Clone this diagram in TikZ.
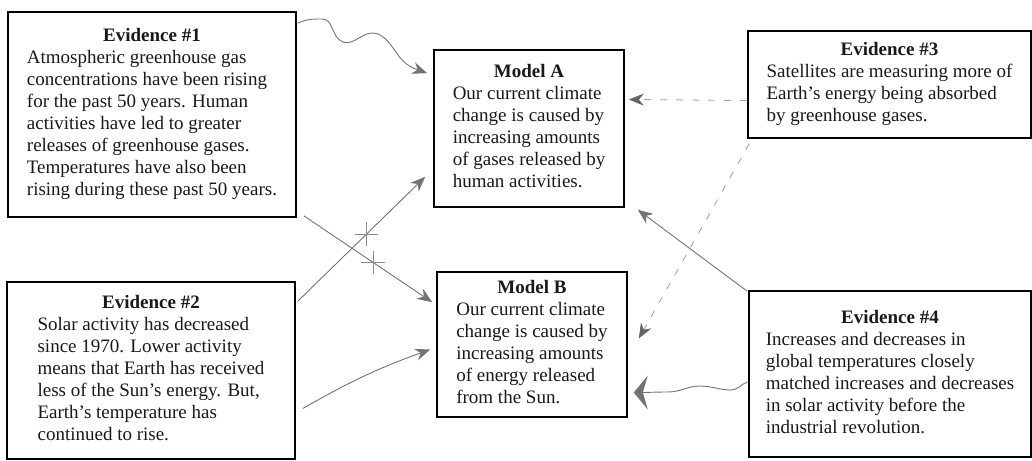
\documentclass[tikz,border=0pt]{standalone}
\usepackage{fontspec}
\setmainfont{Liberation Serif}
\usetikzlibrary{arrows.meta,calc,shapes.misc}

% title line centred, then the body lines
\newcommand{\cardtext}[2]{\begin{tabular}{@{}l@{}}\multicolumn{1}{@{}c@{}}{\textbf{#1}}\\#2\end{tabular}}

\tikzset{
    card/.style={draw, line width=1.6pt, fill=white, inner sep=0pt,
        text=black!90, font=\fontsize{19}{22}\selectfont},
    link/.style={draw=black!55, line width=0.9pt, -{Stealth[length=15pt,width=12pt]}},
    hint/.style={draw=black!35, line width=0.9pt, dash pattern=on 7pt off 9pt,
        -{Stealth[length=15pt,width=12pt,color=black!60]}},
    strike/.style={cross out, draw=black!45, line width=0.7pt, minimum size=16pt,
        inner sep=0pt, rotate=45}
}

\begin{document}
\begin{tikzpicture}[x=1pt, y=-1pt]
    \useasboundingbox (0,0) rectangle (1032,460);

    % evidence cards
    \node[card, minimum width=288pt, minimum height=205pt] (ev1) at (152,114.5)
        {\cardtext{Evidence \#1}{Atmospheric greenhouse gas\\concentrations have been rising\\for the past 50 years. Human\\activities have led to greater\\releases of greenhouse gases.\\Temperatures have also been\\rising during these past 50 years.}};
    \node[card, minimum width=288pt, minimum height=177pt] (ev2) at (151,370.5)
        {\cardtext{Evidence \#2}{Solar activity has decreased\\since 1970. Lower activity\\means that Earth has received\\less of the Sun’s energy. But,\\Earth’s temperature has\\continued to rise.}};
    \node[card, minimum width=283pt, minimum height=107pt] (ev3) at (889.5,84.5)
        {\cardtext{Evidence \#3}{Satellites are measuring more of\\Earth’s energy being absorbed\\by greenhouse gases.}};
    \node[card, minimum width=282pt, minimum height=166pt] (ev4) at (890,374)
        {\cardtext{Evidence \#4}{Increases and decreases in\\global temperatures closely\\matched increases and decreases\\in solar activity before the\\industrial revolution.}};

    % models
    \node[card, minimum width=190pt, minimum height=157pt] (mA) at (529,128.5)
        {\cardtext{Model A}{Our current climate\\change is caused by\\increasing amounts\\of gases released by\\human activities.}};
    \node[card, minimum width=190pt, minimum height=145pt] (mB) at (532,344.5)
        {\cardtext{Model B}{Our current climate\\change is caused by\\increasing amounts\\of energy released\\from the Sun.}};

    % links from the left
    \draw[link] ($(ev1.north east)+(1,12)$) to[out=25,in=180] (322,19)
        to[out=0,in=150] (341,41) to[out=-30,in=200] (367,34)
        to[out=20,in=125] (398,55) to[out=-55,in=160] ($(mA.north west)+(-6,24)$);
    \draw[link] ($(ev1.south east)+(7,-2)$) -- ($(mB.north west)+(-4,31)$)
        node[pos=0.54, strike] {};
    \draw[link] ($(ev2.north east)+(2,20)$) -- ($(mA.south west)+(-8,-31)$)
        node[pos=0.54, strike] {};
    \draw[link] ($(ev2.east)+(7,38)$) to[bend left=5] ($(mB.west)+(-6,5)$);

    % links from the right
    \draw[hint] ($(ev3.west)+(0,16)$) -- ($(mA.east)+(4,-29)$);
    \draw[hint] ($(ev3.south west)+(2,5)$) -- ($(mB.east)+(11,-6)$);
    \draw[link] ($(ev4.north west)+(-1,1)$) -- ($(mA.south east)+(13,2)$);
    \draw[link, -{Stealth[length=14pt,width=34pt,inset=5pt]}] ($(ev4.west)+(-1,8)$)
        to[out=200,in=0] (731,390) to[out=180,in=0] (700,386)
        to[out=180,in=0] (668,392) to[out=180,in=0] ($(mB.east)+(6,48)$);
\end{tikzpicture}
\end{document}
